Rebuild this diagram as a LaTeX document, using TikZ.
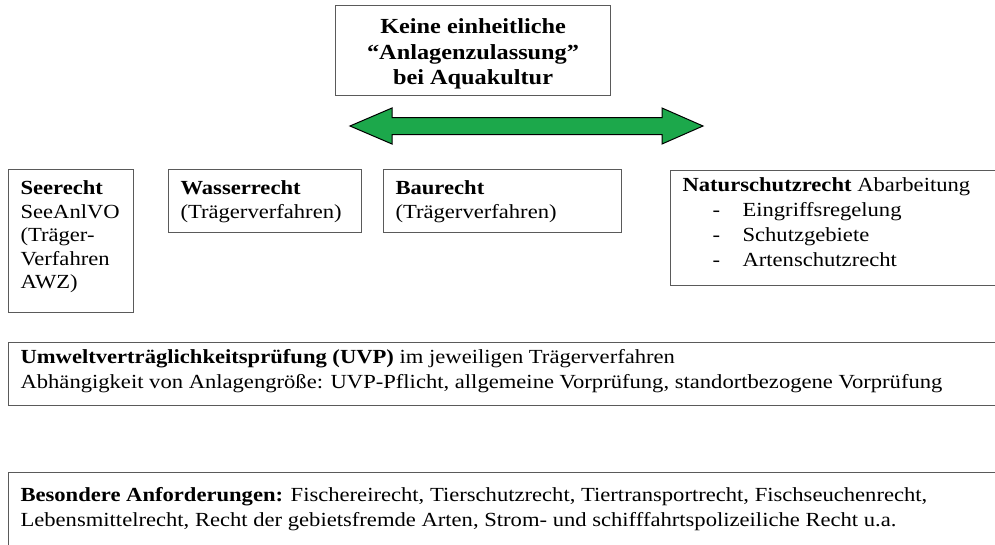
\documentclass[tikz,border=0pt]{standalone}
\usepackage{fontspec}
\setmainfont{Liberation Serif}[FakeStretch=1.13]
\definecolor{boxgray}{HTML}{5A5A5A}
\definecolor{arrowgreen}{HTML}{1CA84B}
% #1 width, #2 height, #3 first baseline offset, #4 baselineskip, #5 content
\newcommand{\bxt}[5]{\parbox[c][#2pt][t]{#1pt}{\raggedright\baselineskip=#4pt\rule{0pt}{#3pt}#5}}
\begin{document}
\begin{tikzpicture}[x=1pt,y=-1pt,
  font=\fontsize{20}{24}\selectfont,
  box/.style={draw=boxgray, line width=1.1pt, anchor=north west, inner xsep=12pt, inner ysep=0pt}]
\useasboundingbox (0,0) rectangle (995,544);
\clip (0,0) rectangle (995,544);

\node[box] (top) at (335,5) {\parbox[c][90pt][t]{251pt}{\centering\fontsize{21.5}{25.5}\selectfont\bfseries\rule{0pt}{28pt}Keine einheitliche\\“Anlagenzulassung”\\bei Aquakultur}};

\draw[fill=arrowgreen, draw=black, line width=1pt]
  (350,126) -- (392,108) -- (392,117.5) -- (662,117.5) -- (662,108) -- (703,126)
  -- (662,144) -- (662,134.5) -- (392,134.5) -- (392,144) -- cycle;

\node[box] (see) at (8,169) {\bxt{101}{143}{25}{23.5}{\textbf{Seerecht}\\SeeAnlVO\\(Träger-\\Verfahren\\AWZ)}};
\node[box] (wasser) at (168,169) {\bxt{169}{63}{25}{24}{\textbf{Wasserrecht}\\(Trägerverfahren)}};
\node[box] (bau) at (383,169) {\bxt{214}{63}{25}{24}{\textbf{Baurecht}\\(Trägerverfahren)}};
\node[box] (natur) at (670,170) {\bxt{316}{115}{21}{25}{\textbf{Naturschutzrecht} Abarbeitung\\
  \hspace*{30pt}\makebox[30pt][l]{-}Eingriffsregelung\\
  \hspace*{30pt}\makebox[30pt][l]{-}Schutzgebiete\\
  \hspace*{30pt}\makebox[30pt][l]{-}Artenschutzrecht}};

\node[box] (uvp) at (8,342) {\bxt{978}{63}{21}{24.5}{\textbf{Umweltverträglichkeitsprüfung (UVP)} im jeweiligen Trägerverfahren\\
  Abhängigkeit von Anlagengröße: UVP-Pflicht, allgemeine Vorprüfung, standortbezogene Vorprüfung}};

\node[box] (bes) at (8,472) {\bxt{978}{100}{29}{24.5}{\textbf{Besondere Anforderungen:} Fischereirecht, Tierschutzrecht, Tiertransportrecht, Fischseuchenrecht,\\
  Lebensmittelrecht, Recht der gebietsfremde Arten, Strom- und schifffahrtspolizeiliche Recht u.a.}};
\end{tikzpicture}
\end{document}
